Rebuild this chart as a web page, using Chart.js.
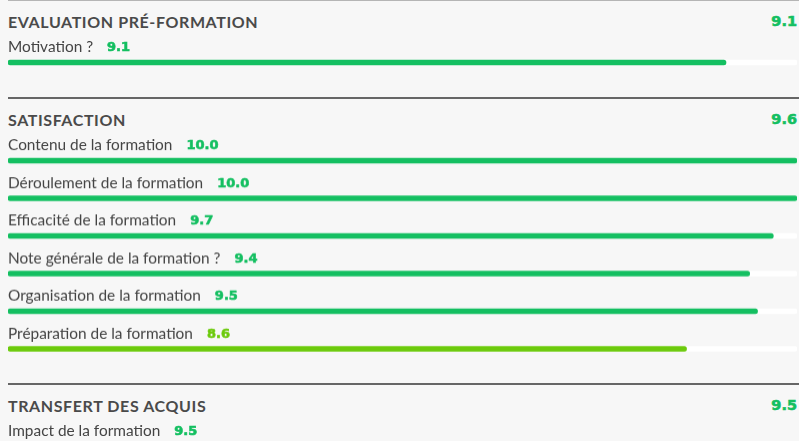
<!DOCTYPE html>
<html>
<head>
<meta charset="utf-8">
<script src="https://cdn.jsdelivr.net/npm/chart.js@4"></script>
<style>
  html, body { margin: 0; padding: 0; background: #f7f7f7; width: 799px; height: 441px; overflow: hidden; }
  body { font-family: Lato, "Open Sans", sans-serif; }
  .section { margin-left: 8px; width: 791px; border-top: 2px solid #666; }
  .section.first { border-top: 1px solid #b5b5b5; }
  .head { margin-top: 8px; height: 25px; line-height: 25px; display: flex; justify-content: space-between; padding-right: 2px; }
  .head .title { font-weight: 700; font-size: 16px; color: #4a4a4a; letter-spacing: 0.6px; }
  .head .score { font-family: "DejaVu Sans", sans-serif; font-weight: 700; font-size: 14.5px; color: #14bf61; -webkit-text-stroke: 0.6px #14bf61; }
  .box { position: relative; width: 791px; }
</style>
</head>
<body>
<div id="page"></div>
<script>
const sections = ['EVALUATION PRÉ-FORMATION', 'SATISFACTION', 'TRANSFERT DES ACQUIS'];
const sectionScores = [9.1, 9.6, 9.5];

const evalLabels = ['Motivation ?'];
const evalValues = [9.1];

const satLabels = ['Contenu de la formation', 'Déroulement de la formation', 'Efficacité de la formation',
  'Note générale de la formation ?', 'Organisation de la formation', 'Préparation de la formation'];
const satValues = [10.0, 10.0, 9.7, 9.4, 9.5, 8.6];

const transLabels = ['Impact de la formation'];
const transValues = [9.5];

const maxScore = 10;
const green = '#14bf61';
const lightGreen = '#6cca0c';
function colorFor(v) { return v >= 9 ? green : lightGreen; }

// labels + value drawn above each bar
const rowLabels = {
  id: 'rowLabels',
  afterDatasetsDraw(chart) {
    const ctx = chart.ctx;
    const meta = chart.getDatasetMeta(1);
    const labels = chart.data.labels;
    const values = chart.data.datasets[1].data;
    ctx.save();
    ctx.textBaseline = 'middle';
    meta.data.forEach((bar, i) => {
      const y = bar.y - 15;
      const x = chart.chartArea.left;
      ctx.font = '15.4px Lato';
      ctx.fillStyle = '#444444';
      ctx.fillText(labels[i], x, y);
      const w = ctx.measureText(labels[i]).width;
      ctx.font = 'bold 13px "DejaVu Sans"';
      ctx.fillStyle = colorFor(values[i]);
      ctx.strokeStyle = colorFor(values[i]);
      ctx.lineWidth = 0.6;
      const txt = values[i].toFixed(1);
      ctx.fillText(txt, x + w + 14, y + 0.5);
      ctx.strokeText(txt, x + w + 14, y + 0.5);
    });
    ctx.restore();
  }
};

const groups = [[evalLabels, evalValues], [satLabels, satValues], [transLabels, transValues]];
const page = document.getElementById('page');

groups.forEach((g, k) => {
  const sec = document.createElement('div');
  sec.className = 'section' + (k === 0 ? ' first' : '');
  sec.innerHTML = '<div class="head"><span class="title">' + sections[k] +
    '</span><span class="score">' + sectionScores[k].toFixed(1) + '</span></div>';
  const box = document.createElement('div');
  box.className = 'box';
  box.style.height = (25.5 + 37.5 * g[0].length) + 'px';
  const canvas = document.createElement('canvas');
  box.appendChild(canvas);
  sec.appendChild(box);
  page.appendChild(sec);

  new Chart(canvas.getContext('2d'), {
    type: 'bar',
    data: {
      labels: g[0],
      datasets: [
        {
          data: g[1].map(() => maxScore),
          backgroundColor: '#ffffff',
          barThickness: 5,
          borderRadius: 3,
          borderSkipped: false,
          grouped: false,
          order: 2
        },
        {
          data: g[1],
          backgroundColor: g[1].map(colorFor),
          barThickness: 5,
          borderRadius: 3,
          borderSkipped: false,
          grouped: false,
          order: 1
        }
      ]
    },
    options: {
      indexAxis: 'y',
      responsive: true,
      maintainAspectRatio: false,
      animation: false,
      layout: { padding: { top: 9.75, bottom: 15.75, left: 0, right: 2 } },
      scales: {
        x: { min: 0, max: maxScore, display: false },
        y: { display: false }
      },
      plugins: {
        legend: { display: false },
        tooltip: { enabled: false }
      }
    },
    plugins: [rowLabels]
  });
});
</script>
</body>
</html>
